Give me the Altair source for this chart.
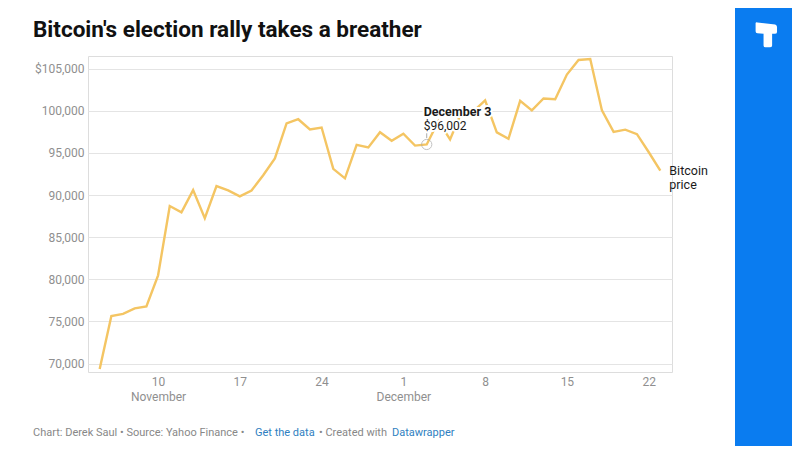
import altair as alt
import pandas as pd

# ---------------- data ----------------
dates = pd.date_range("2024-11-05", "2024-12-23", freq="D").strftime("%Y-%m-%d").tolist()
prices = [
    69359, 75639, 75904, 76545, 76778, 80474, 88701, 87955, 90584, 87250,
    91066, 90558, 89845, 90542, 92343, 94339, 98504, 98997, 97777, 98013,
    93102, 91985, 95962, 95652, 97461, 96449, 97279, 95865, 96002, 98768,
    96593, 99920, 99923, 101236, 97432, 96675, 101173, 100043, 101459, 101372,
    104298, 106029, 106140, 100041, 97490, 97755, 97224, 95104, 92900,
]
y_ticks = [70000, 75000, 80000, 85000, 90000, 95000, 100000, 105000]
x_tick_days = [(11, 10), (11, 17), (11, 24), (12, 1), (12, 8), (12, 15), (12, 22)]

ann_date = ["2024-12-03"]
ann_price = [96002]
ann_title = ["December 3"]
ann_value = ["$96,002"]

title_text = "Bitcoin's election rally takes a breather"
footer_parts = ["Chart: Derek Saul \u2022 Source: Yahoo Finance \u2022", "Get the data",
                "\u2022 Created with", "Datawrapper"]
series_label = "Bitcoin\nprice"

df = pd.DataFrame({"date": dates, "price": prices})
ann = pd.DataFrame({"date": ann_date, "price": ann_price,
                    "t1": ann_title, "t2": ann_value})
last = df.tail(1).assign(lbl=series_label)

FONT = "Roboto, sans-serif"
LINE = "#f4c563"
GRID = "#e4e4e4"
LAB = "#8f8f8f"
BLUE = "#0a7cf0"

x_enc = alt.X(
    "date:T", title=None,
    scale=alt.Scale(type="utc", domain=[alt.DateTime(year=2024, month=11, date=4, utc=True),
                                        alt.DateTime(year=2024, month=12, date=24, utc=True)]),
    axis=alt.Axis(
        values=[alt.DateTime(year=2024, month=m, date=d, utc=True) for m, d in x_tick_days],
        labelExpr="utcdate(datum.value) == 10 ? ['10', 'November'] : "
                  "(utcdate(datum.value) == 1 ? ['1', 'December'] : utcFormat(datum.value, '%-d'))",
        domain=False, ticks=False, grid=False, labelFont=FONT, labelFontSize=12,
        labelColor=LAB, labelPadding=4, labelLineHeight=15, labelBaseline="top",
    ),
)
y_enc = alt.Y(
    "price:Q", title=None,
    scale=alt.Scale(domain=[69000, 106500], nice=False, zero=False),
    axis=alt.Axis(
        values=y_ticks,
        labelExpr="datum.value == 105000 ? '$105,000' : format(datum.value, ',')",
        domain=False, ticks=False, grid=True, gridColor=GRID, gridWidth=1,
        labelFont=FONT, labelFontSize=12, labelColor=LAB, labelPadding=4,
    ),
)

line = alt.Chart(df).mark_line(color=LINE, strokeWidth=2.4).encode(x=x_enc, y=y_enc)

circle = alt.Chart(ann).mark_point(shape="circle", size=105, color="#aaaaaa",
                                   strokeWidth=1, filled=False).encode(x=x_enc, y=y_enc)
connector = alt.Chart(ann).mark_rule(color="#aaaaaa", strokeWidth=1).encode(
    x=x_enc, y=alt.value(73), y2=alt.value(82))

def halo_text(field, dy, weight, size):
    base = alt.Chart(ann).encode(x=x_enc, y=y_enc, text=f"{field}:N")
    h = base.mark_text(align="left", baseline="alphabetic", dx=-3, dy=dy, font=FONT,
                       fontSize=size, fontWeight=weight, color="white",
                       stroke="white", strokeWidth=4)
    t = base.mark_text(align="left", baseline="alphabetic", dx=-3, dy=dy, font=FONT,
                       fontSize=size, fontWeight=weight, color="#1a1a1a")
    return h + t

ann_t1 = halo_text("t1", -28, "bold", 12.5)
ann_t2 = halo_text("t2", -14, "normal", 12)

end_lbl = alt.Chart(last).mark_text(align="left", baseline="alphabetic", dx=9, dy=4.5,
                                    font=FONT, fontSize=12.5, color="#1a1a1a",
                                    lineBreak="\n", lineHeight=14).encode(
    x=x_enc, y=y_enc, text="lbl:N")

def px_text(txt, x, y, **kw):
    return alt.Chart(pd.DataFrame({"t": [txt]})).mark_text(
        align="left", baseline="alphabetic", font=FONT, **kw).encode(
        x=alt.value(x), y=alt.value(y), text="t:N")

title = px_text(title_text, -55, -19, fontSize=22.5, fontWeight="bold", color="#111111")
f1 = px_text(footer_parts[0], -55, 380, fontSize=11, color="#888888")
f2 = px_text(footer_parts[1], 167, 380, fontSize=11, color="#2f7fc1")
f3 = px_text(footer_parts[2], 231, 380, fontSize=11, color="#888888")
f4 = px_text(footer_parts[3], 304, 380, fontSize=11, color="#2f7fc1")

panel = alt.Chart(pd.DataFrame({"a": [0]})).mark_rect(color=BLUE).encode(
    x=alt.value(647), x2=alt.value(720), y=alt.value(-60), y2=alt.value(420))

LOGO = ("M-0.85,-0.95 Q-0.85,-1.05 -0.7,-1.03 L0.75,-0.85 Q0.9,-0.8 0.9,-0.65 "
        "L0.9,-0.25 Q0.9,-0.1 0.7,-0.1 L0.5,-0.1 L0.5,0.85 Q0.5,1 0.3,1 "
        "L-0.05,1 Q-0.2,1 -0.2,0.85 L-0.2,-0.1 L-0.7,-0.15 Q-0.85,-0.15 -0.85,-0.3 Z")
logo = alt.Chart(pd.DataFrame({"a": [0]})).mark_point(
    shape=LOGO, size=600, filled=True, color="white", opacity=1, strokeWidth=0).encode(
    x=alt.value(678), y=alt.value(-21))

chart = alt.layer(
    line, connector, circle, ann_t1, ann_t2, end_lbl, title, f1, f2, f3, f4, panel, logo
).properties(
    width=584, height=316,
    padding={"left": 80, "top": 48, "right": 120, "bottom": 74},
    autosize=alt.AutoSizeParams(type="none"),
).configure_view(stroke=None).configure(background="white")

chart.save("out.html", embed_options={"renderer": "svg", "actions": False})
